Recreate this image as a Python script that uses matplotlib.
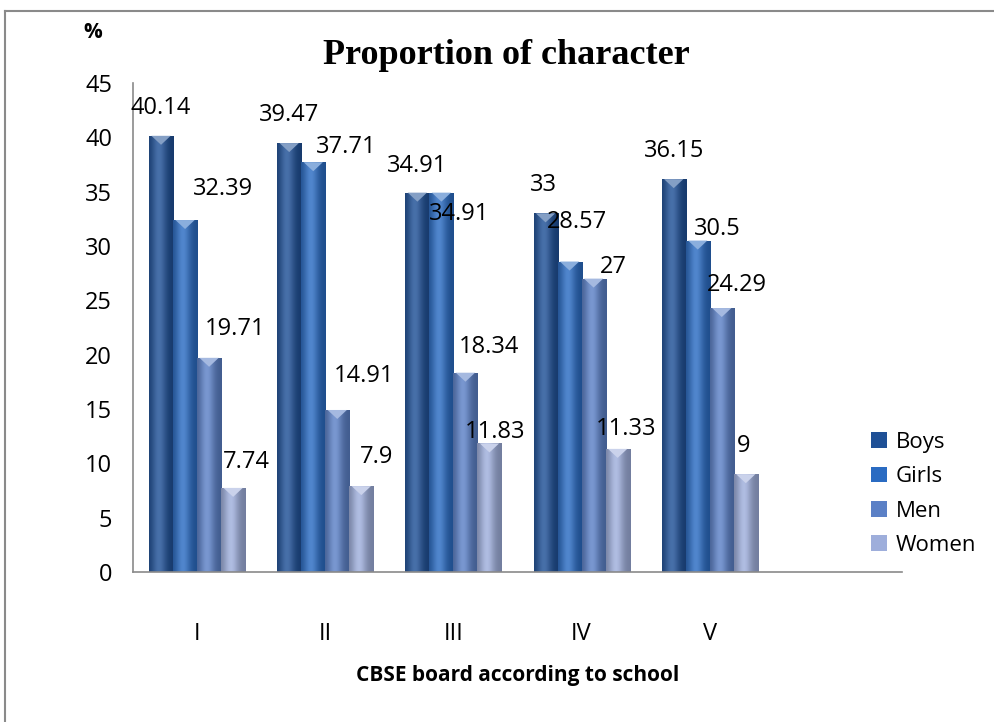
import numpy as np
import matplotlib
matplotlib.use("Agg")
import matplotlib.pyplot as plt
import matplotlib.colors as mcolors
from matplotlib.lines import Line2D
from matplotlib.patches import Patch

# data
schools = ["I", "II", "III", "IV", "V"]
series = ["Boys", "Girls", "Men", "Women"]
boys = [40.14, 39.47, 34.91, 33, 36.15]
girls = [32.39, 37.71, 34.91, 28.57, 30.5]
men = [19.71, 14.91, 18.34, 27, 24.29]
women = [7.74, 7.9, 11.83, 11.33, 9]
values = [boys, girls, men, women]

colors = ["#1f5096", "#2a6bc2", "#5b80c6", "#9eaedb"]

# label nudges (pixels, relative to bar top centre) as placed in the original
label_dx = [[0, 0, 0, -2, 0],
            [38, 33, 18, 7, 20],
            [26, 27, 24, 20, 15],
            [13, 15, 6, 8, -2]]
label_dy = [[28, 28, 27, 28, 28],
            [31, 15, -21, 40, 12],
            [29, 34, 26, 12, 23],
            [26, 29, 11, 20, 28]]

plt.rcParams["font.family"] = ["Open Sans", "DejaVu Sans"]


def bar_shading(base, n=64):
    base = np.array(mcolors.to_rgb(base))
    t = np.linspace(0, 1, n)
    w = np.exp(-((t - 0.4) / 0.3) ** 2)
    dark = base * 0.72
    light = base + (1 - base) * 0.18
    return dark[None] * (1 - w[:, None]) + light[None] * w[:, None]


fig = plt.figure(figsize=(9.94, 7.22), dpi=100)
ax = fig.add_axes([133 / 994, 150 / 722, 769 / 994, 489 / 722])

x = np.arange(len(schools))
width = 0.1875
px_per_unit = 489 / 45

for i, (name, vals, col) in enumerate(zip(series, values, colors)):
    pos = x + (i - 1.5) * width
    bars = ax.bar(pos, vals, width=width, color=col, label=name, zorder=2,
                  linewidth=0)
    grad = bar_shading(col)
    cap_col = np.array(mcolors.to_rgb(col))
    cap_col = cap_col + (1 - cap_col) * 0.45
    for j, b in enumerate(bars):
        x0, h = b.get_x(), b.get_height()
        x1 = x0 + b.get_width()
        im = ax.imshow(grad[None, :, :], extent=(x0, x1, 0, h), aspect="auto",
                       zorder=2.5, interpolation="bilinear")
        im.set_clip_path(b)
        dh = 9 / px_per_unit
        ax.fill([x0 + 0.1 * width, x1 - 0.1 * width, (x0 + x1) / 2],
                [h, h, h - dh], color=cap_col, zorder=3, linewidth=0)
        ax.annotate(f"{vals[j]:g}", (b.get_x() + b.get_width() / 2, h),
                    xytext=(label_dx[i][j], label_dy[i][j]),
                    textcoords="offset pixels", ha="center", va="center",
                    fontsize=17, color="black", zorder=5)

ax.set_xlim(-0.5, 5.5)
ax.set_ylim(0, 45)
ax.set_yticks(np.arange(0, 46, 5))
ax.set_xticks(x)
ax.set_xticklabels(schools)
ax.tick_params(axis="y", length=0, pad=15, labelsize=17)
ax.tick_params(axis="x", length=0, pad=36, labelsize=17)
for side in ["top", "right"]:
    ax.spines[side].set_visible(False)
for side in ["left", "bottom"]:
    ax.spines[side].set_color("#8a8a8a")
    ax.spines[side].set_linewidth(1.2)

ax.set_xlabel("CBSE board according to school", fontsize=15,
              fontweight="bold", labelpad=14)

fig.text(0.509, 1 - 55 / 722, "Proportion of character",
         family="Liberation Serif", fontweight="bold", fontsize=26,
         ha="center", va="center")
fig.text(93 / 994, 1 - 33 / 722, "%", fontsize=15, fontweight="bold",
         ha="center", va="center")

handles = [Patch(facecolor=c, label=s) for s, c in zip(series, colors)]
fig.legend(handles=handles, loc="center left",
           bbox_to_anchor=(871 / 994, 1 - 494 / 722), frameon=False,
           fontsize=16, handlelength=0.7, handleheight=0.7,
           handletextpad=0.4, labelspacing=0.6, borderpad=0,
           borderaxespad=0)

# outer chart frame (left and top edges visible in the original)
top_y = 1 - 11 / 722
left_x = 5 / 994
fig.add_artist(Line2D([left_x, left_x], [0, top_y], color="#8a8a8a",
                      linewidth=1.5, transform=fig.transFigure))
fig.add_artist(Line2D([left_x, 1], [top_y, top_y], color="#8a8a8a",
                      linewidth=1.5, transform=fig.transFigure))

fig.savefig("out.png", dpi=100, facecolor="white")
